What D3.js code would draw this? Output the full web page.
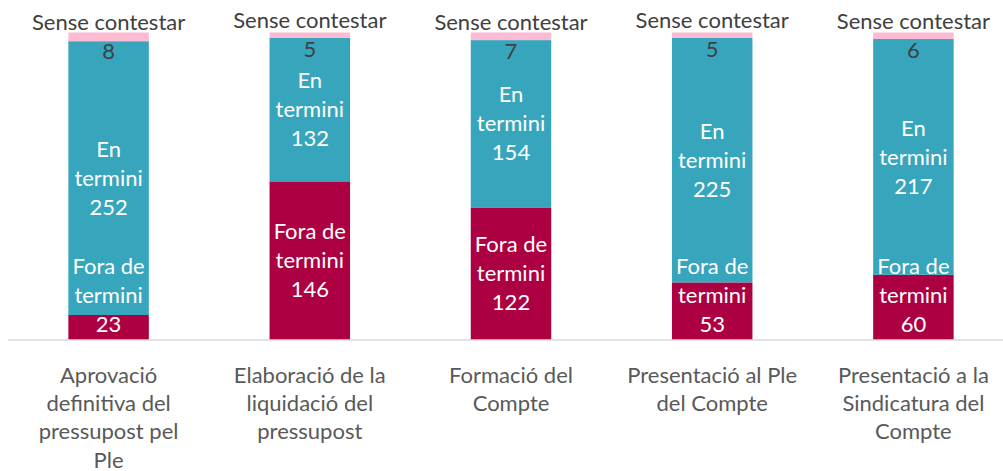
<!DOCTYPE html>
<html>
<head>
<meta charset="utf-8">
<script src="https://cdn.jsdelivr.net/npm/d3@7"></script>
<style>
  body { margin: 0; background: #fff; }
  text { font-family: Lato, "Open Sans", sans-serif; }
</style>
</head>
<body>
<script>
const categories = [
  'Aprovació\ndefinitiva del\npressupost pel\nPle',
  'Elaboració de la\nliquidació del\npressupost',
  'Formació del\nCompte',
  'Presentació al Ple\ndel Compte',
  'Presentació a la\nSindicatura del\nCompte'
];
const foraDeTermini = [23, 146, 122, 53, 60];
const enTermini = [252, 132, 154, 225, 217];
const senseContestar = [8, 5, 7, 5, 6];

const seriesNames = ['Fora de\ntermini', 'En\ntermini', 'Sense contestar'];
const seriesColors = ['#ad0042', '#37a6bd', '#fcbad3'];
const labelColors = ['#ffffff', '#ffffff', '#404040'];

const width = 1003, height = 471;
const plotBottom = 340, plotTop = 32.5;
const lineH = 29;
const fontSize = 22;

const rows = categories.map((c, i) => ({
  cat: c, s0: foraDeTermini[i], s1: enTermini[i], s2: senseContestar[i]
}));
const keys = ['s0', 's1', 's2'];
const stacked = d3.stack().keys(keys)(rows);

const x = d3.scaleBand()
  .domain(categories)
  .range([8, 1014])
  .paddingInner(0.6)
  .paddingOuter(0.3);

const y = d3.scaleLinear()
  .domain([0, d3.max(rows, d => d.s0 + d.s1 + d.s2)])
  .range([plotBottom, plotTop]);

const svg = d3.select('body').append('svg')
  .attr('width', width)
  .attr('height', height);

// bars
const layer = svg.append('g').selectAll('g')
  .data(stacked)
  .join('g')
  .attr('fill', (d, i) => seriesColors[i]);

layer.selectAll('rect')
  .data(d => d)
  .join('rect')
  .attr('x', d => x(d.data.cat))
  .attr('width', x.bandwidth())
  .attr('y', d => y(d[1]))
  .attr('height', d => y(d[0]) - y(d[1]));

// axis line
svg.append('line')
  .attr('x1', 8).attr('x2', width)
  .attr('y1', plotBottom).attr('y2', plotBottom)
  .attr('stroke', '#d9d9d9')
  .attr('stroke-width', 1.5);

// data labels: series name + value, centred on segment
const labels = svg.append('g');
stacked.forEach((s, si) => {
  s.forEach(d => {
    const lines = seriesNames[si].split('\n').concat([String(d[1] - d[0])]);
    let cy = (y(d[0]) + y(d[1])) / 2;
    cy = Math.min(cy, plotBottom - 45);
    const t = labels.append('text')
      .attr('text-anchor', 'middle')
      .attr('fill', labelColors[si])
      .attr('font-size', fontSize);
    lines.forEach((ln, li) => {
      t.append('tspan')
        .attr('x', x(d.data.cat) + x.bandwidth() / 2)
        .attr('y', cy + (li - (lines.length - 1) / 2) * lineH)
        .attr('dy', '0.35em')
        .text(ln);
    });
  });
});

// category labels
const xAxis = svg.append('g');
categories.forEach(c => {
  const t = xAxis.append('text')
    .attr('text-anchor', 'middle')
    .attr('fill', '#595959')
    .attr('font-size', fontSize);
  c.split('\n').forEach((ln, li) => {
    t.append('tspan')
      .attr('x', x(c) + x.bandwidth() / 2)
      .attr('y', 375 + li * 28.3)
      .attr('dy', '0.35em')
      .text(ln);
  });
});
</script>
</body>
</html>
